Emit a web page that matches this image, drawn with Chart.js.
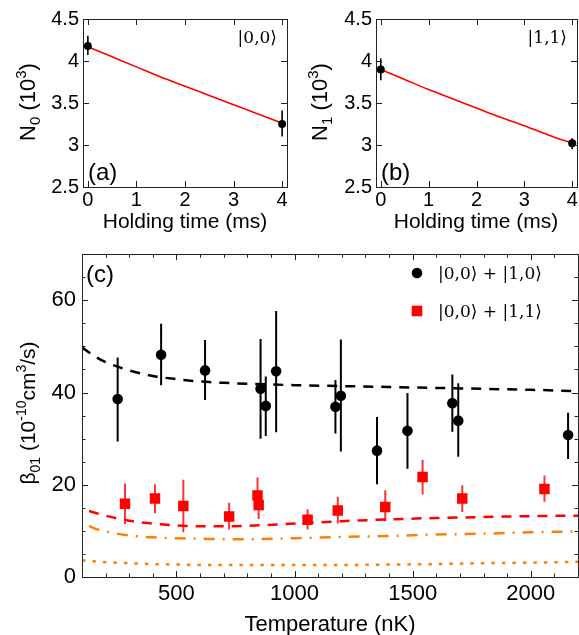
<!DOCTYPE html>
<html>
<head>
<meta charset="utf-8">
<script src="https://cdn.jsdelivr.net/npm/chart.js@4.4.1/dist/chart.umd.min.js"></script>
<style>
  html, body { margin: 0; padding: 0; background: #fff; }
  #wrap { position: relative; width: 579px; height: 635px; }
  canvas { position: absolute; }
</style>
</head>
<body>
<div id="wrap">
  <canvas id="chartA" width="290" height="235" style="left:0;top:0"></canvas>
  <canvas id="chartB" width="289" height="235" style="left:290px;top:0"></canvas>
  <canvas id="chartC" width="579" height="400" style="left:0;top:235px"></canvas>
</div>
<script>
const SANS = '"Liberation Sans", Arial, sans-serif';
const SERIF = '"DejaVu Serif", "Liberation Serif", serif';

// ---- (a), (b): atom number vs holding time ----
const holdTime = [0, 4];
const n0 = [4.18, 3.25];
const n0Lo = [4.07, 3.10];
const n0Hi = [4.30, 3.41];
const n1 = [3.90, 3.02];
const n1Lo = [3.77, 2.95];
const n1Hi = [4.03, 3.08];

const fitTime = [0, 0.5, 1, 1.5, 2, 2.5, 3, 3.5, 4];
const n0Fit = [4.17, 4.05, 3.93, 3.81, 3.70, 3.59, 3.48, 3.37, 3.26];
const n1Fit = [3.90, 3.78, 3.66, 3.55, 3.44, 3.33, 3.23, 3.12, 3.02];

const holdTicks = [0, 1, 2, 3, 4];
const numberTicks = [2.5, 3, 3.5, 4, 4.5];

// ---- (c): beta_01 vs temperature ----
const tempA = [251, 435, 621, 856, 878, 922, 1173, 1196, 1349, 1478, 1668, 1693, 2158];
const betaA = [38.6, 48.2, 44.8, 40.8, 37.1, 44.6, 36.9, 39.3, 27.4, 31.7, 37.7, 33.9, 30.8];
const betaALo = [29.4, 41.6, 38.4, 30.0, 30.6, 31.4, 31.1, 27.2, 20.1, 23.5, 31.5, 26.1, 25.6];
const betaAHi = [47.6, 54.9, 51.4, 51.6, 43.5, 57.7, 42.7, 51.5, 34.7, 39.9, 43.9, 42.0, 35.6];

const tempB = [282, 409, 529, 723, 843, 848, 1055, 1183, 1384, 1542, 1710, 2058];
const betaB = [15.9, 17.0, 15.4, 13.1, 17.7, 15.6, 12.4, 14.4, 15.2, 21.7, 17.0, 19.1];
const betaBLo = [11.5, 13.8, 9.7, 10.3, 14.6, 12.6, 10.3, 11.6, 12.1, 17.9, 14.1, 16.3];
const betaBHi = [20.3, 20.1, 21.1, 16.1, 21.6, 18.5, 14.7, 17.4, 18.8, 25.4, 19.9, 22.0];

const curveTemp = [100, 150, 200, 300, 400, 500, 600, 700, 800, 1000, 1200, 1400, 1600, 1800, 2000, 2200];
const theoryA = [49.8, 48.0, 46.6, 44.8, 43.6, 42.9, 42.4, 42.1, 41.9, 41.6, 41.4, 41.2, 41.0, 40.8, 40.6, 40.3];
const theoryDot = [3.6, 3.4, 3.2, 3.0, 2.8, 2.7, 2.6, 2.6, 2.6, 2.6, 2.6, 2.7, 2.8, 3.0, 3.1, 3.3];
const curveTempB = [130, 150, 200, 300, 400, 500, 600, 700, 800, 1000, 1200, 1400, 1600, 1800, 2000, 2200];
const theoryB = [14.3, 14.0, 13.3, 12.2, 11.6, 11.2, 11.0, 11.0, 11.1, 11.6, 12.1, 12.5, 12.8, 13.0, 13.2, 13.3];
const theoryDashDot = [11.1, 10.6, 9.9, 9.0, 8.6, 8.4, 8.3, 8.2, 8.2, 8.4, 8.7, 8.9, 9.2, 9.4, 9.7, 9.9];

const tempTicks = [500, 1000, 1500, 2000];
const betaTicks = [0, 20, 40, 60];

function pts(xs, ys) {
  return xs.map((x, i) => ({ x: x, y: ys[i] }));
}

// range helper for minor tick positions
function steps(from, to, step) {
  const out = [];
  for (let v = from; v <= to + 1e-9; v += step) out.push(Math.round(v * 1000) / 1000);
  return out;
}

// draws a string made of pieces with own size and vertical shift (sub/superscripts)
function drawParts(ctx, parts, x, y, rotate) {
  ctx.save();
  ctx.translate(x, y);
  if (rotate) ctx.rotate(-Math.PI / 2);
  ctx.textBaseline = 'alphabetic';
  ctx.textAlign = 'left';
  ctx.fillStyle = '#000';
  let total = 0;
  const widths = parts.map(p => {
    ctx.font = p[1] + 'px ' + SANS;
    const w = ctx.measureText(p[0]).width;
    total += w;
    return w;
  });
  let cx = -total / 2;
  parts.forEach((p, i) => {
    ctx.font = p[1] + 'px ' + SANS;
    ctx.fillText(p[0], cx, p[2]);
    cx += widths[i];
  });
  ctx.restore();
}

// vertical error bars, under the markers
const errorBarPlugin = {
  id: 'errorBars',
  beforeDatasetsDraw(chart) {
    const { ctx, scales } = chart;
    chart.data.datasets.forEach(ds => {
      if (!ds.errLo) return;
      ctx.save();
      ctx.strokeStyle = ds.errColor;
      ctx.lineWidth = ds.errWidth;
      ctx.beginPath();
      ds.data.forEach((p, i) => {
        const px = scales.x.getPixelForValue(p.x);
        ctx.moveTo(px, scales.y.getPixelForValue(ds.errLo[i]));
        ctx.lineTo(px, scales.y.getPixelForValue(ds.errHi[i]));
      });
      ctx.stroke();
      ctx.restore();
    });
  }
};

// box around the plot with inward ticks on all four sides
const framePlugin = {
  id: 'frame',
  afterDatasetsDraw(chart, args, opts) {
    const { ctx, chartArea: a, scales } = chart;
    const xs = scales.x, ys = scales.y;
    ctx.save();
    ctx.strokeStyle = '#222';
    ctx.lineWidth = 1;
    ctx.beginPath();
    const xTick = (v, len) => {
      const p = Math.round(xs.getPixelForValue(v)) + 0.5;
      ctx.moveTo(p, a.bottom); ctx.lineTo(p, a.bottom - len);
      ctx.moveTo(p, a.top); ctx.lineTo(p, a.top + len);
    };
    const yTick = (v, len) => {
      const p = Math.round(ys.getPixelForValue(v)) + 0.5;
      ctx.moveTo(a.left, p); ctx.lineTo(a.left + len, p);
      ctx.moveTo(a.right, p); ctx.lineTo(a.right - len, p);
    };
    (opts.xMinor || []).forEach(v => xTick(v, opts.minor));
    (opts.yMinor || []).forEach(v => yTick(v, opts.minor));
    xs.ticks.forEach(t => xTick(t.value, opts.major));
    ys.ticks.forEach(t => yTick(t.value, opts.major));
    ctx.stroke();
    ctx.strokeRect(Math.round(a.left) + 0.5, Math.round(a.top) + 0.5,
      Math.round(a.right - a.left), Math.round(a.bottom - a.top));
    ctx.restore();
  }
};

// titles, panel letters, state labels and legend
const labelPlugin = {
  id: 'labels',
  afterDraw(chart, args, opts) {
    const ctx = chart.ctx;
    (opts.items || []).forEach(it => {
      if (it.parts) {
        drawParts(ctx, it.parts, it.x, it.y, it.rotate);
        return;
      }
      if (it.marker) {
        ctx.save();
        ctx.fillStyle = it.color;
        ctx.beginPath();
        if (it.marker === 'circle') ctx.arc(it.x, it.y, it.size, 0, Math.PI * 2);
        else ctx.rect(it.x - it.size, it.y - it.size, it.size * 2, it.size * 2);
        ctx.fill();
        ctx.restore();
        return;
      }
      ctx.save();
      ctx.font = it.font;
      ctx.fillStyle = '#000';
      ctx.textAlign = it.align || 'left';
      ctx.textBaseline = 'alphabetic';
      ctx.fillText(it.text, it.x, it.y);
      ctx.restore();
    });
  }
};

function axis(min, max, tickValues, size, fontSize, pad, isX) {
  return {
    type: 'linear',
    min: min,
    max: max,
    grid: { display: false, drawTicks: false },
    border: { display: false },
    title: { display: false },
    afterBuildTicks(s) {
      s.ticks = tickValues.map(v => ({ value: v }));
    },
    ticks: {
      autoSkip: false,
      maxRotation: 0,
      padding: pad,
      color: '#000',
      font: { family: SANS, size: fontSize },
      callback: v => String(v)
    },
    afterFit(s) {
      if (isX) s.height = size; else s.width = size;
    }
  };
}

function holdingChart(id, vals, lo, hi, fit, yWidth, padRight, items) {
  return new Chart(document.getElementById(id), {
    type: 'scatter',
    data: {
      datasets: [
        {
          data: pts(holdTime, vals),
          pointRadius: 4,
          pointBackgroundColor: '#000',
          pointBorderWidth: 0,
          errLo: lo, errHi: hi, errColor: '#000', errWidth: 1.6
        },
        {
          data: pts(fitTime, fit),
          showLine: true,
          pointRadius: 0,
          borderColor: '#ff0000',
          borderWidth: 1.6,
          cubicInterpolationMode: 'monotone'
        }
      ]
    },
    options: {
      responsive: false,
      maintainAspectRatio: false,
      animation: false,
      events: [],
      layout: { autoPadding: false, padding: { left: 0, top: 19, right: padRight, bottom: 0 } },
      scales: {
        x: axis(-0.1, 4.1, holdTicks, 48, 20, 1, true),
        y: axis(2.5, 4.5, numberTicks, yWidth, 20, 4, false)
      },
      plugins: {
        legend: { display: false },
        tooltip: { enabled: false },
        frame: { major: 6, minor: 3 },
        labels: { items: items }
      }
    },
    plugins: [errorBarPlugin, framePlugin, labelPlugin]
  });
}

holdingChart('chartA', n0, n0Lo, n0Hi, n0Fit, 83, 3, [
  { parts: [['N', 22, 0], ['0', 15, 5], [' (10', 22, 0], ['3', 15, -9], [')', 22, 0]], x: 35, y: 102, rotate: true },
  { text: 'Holding time (ms)', font: '21px ' + SANS, x: 185, y: 228, align: 'center' },
  { text: '(a)', font: '24px ' + SANS, x: 88, y: 180 },
  { text: '|0,0\u27E9', font: '17px ' + SERIF, x: 277, y: 43, align: 'right' }
]);

holdingChart('chartB', n1, n1Lo, n1Hi, n1Fit, 86, 2, [
  { parts: [['N', 22, 0], ['1', 15, 5], [' (10', 22, 0], ['3', 15, -9], [')', 22, 0]], x: 37, y: 102, rotate: true },
  { text: 'Holding time (ms)', font: '21px ' + SANS, x: 186, y: 228, align: 'center' },
  { text: '(b)', font: '24px ' + SANS, x: 91, y: 180 },
  { text: '|1,1\u27E9', font: '17px ' + SERIF, x: 277, y: 43, align: 'right' }
]);

new Chart(document.getElementById('chartC'), {
  type: 'scatter',
  data: {
    datasets: [
      {
        data: pts(tempA, betaA),
        pointRadius: 5.3,
        pointBackgroundColor: '#000',
        pointBorderWidth: 0,
        errLo: betaALo, errHi: betaAHi, errColor: '#000', errWidth: 2
      },
      {
        data: pts(tempB, betaB),
        pointStyle: 'rect',
        pointRadius: 7.4,
        pointBackgroundColor: '#ff0000',
        pointBorderWidth: 0,
        errLo: betaBLo, errHi: betaBHi, errColor: '#ff3333', errWidth: 2
      },
      {
        data: pts(curveTemp, theoryA),
        showLine: true, pointRadius: 0,
        borderColor: '#000', borderWidth: 2.5, borderDash: [10, 8],
        cubicInterpolationMode: 'monotone'
      },
      {
        data: pts(curveTempB, theoryB),
        showLine: true, pointRadius: 0,
        borderColor: '#ff0000', borderWidth: 2.5, borderDash: [10, 8],
        cubicInterpolationMode: 'monotone'
      },
      {
        data: pts(curveTempB, theoryDashDot),
        showLine: true, pointRadius: 0,
        borderColor: '#ff8000', borderWidth: 2.5, borderDash: [11, 8, 2, 8],
        cubicInterpolationMode: 'monotone'
      },
      {
        data: pts(curveTemp, theoryDot),
        showLine: true, pointRadius: 0,
        borderColor: '#ff8000', borderWidth: 2.5, borderDash: [3.5, 7],
        cubicInterpolationMode: 'monotone'
      }
    ]
  },
  options: {
    responsive: false,
    maintainAspectRatio: false,
    animation: false,
    events: [],
    layout: { autoPadding: false, padding: { left: 0, top: 15, right: 1, bottom: 0 } },
    scales: {
      x: axis(100, 2200, tempTicks, 58, 22, 4, true),
      y: axis(0, 70, betaTicks, 82, 22, 6, false)
    },
    plugins: {
      legend: { display: false },
      tooltip: { enabled: false },
      frame: { major: 6, minor: 3.5, xMinor: steps(100, 2200, 100), yMinor: steps(0, 70, 5) },
      labels: {
        items: [
          { parts: [['\u03B2', 21, 0], ['01', 14, 5], [' (10', 21, 0], ['-10', 14, -9], ['cm', 21, 0], ['3', 14, -9], ['/s)', 21, 0]], x: 35, y: 178, rotate: true },
          { text: 'Temperature (nK)', font: '22px ' + SANS, x: 330, y: 396, align: 'center' },
          { text: '(c)', font: '24px ' + SANS, x: 86, y: 47 },
          { marker: 'circle', color: '#000', size: 5.3, x: 417, y: 38 },
          { text: '|0,0\u27E9 + |1,0\u27E9', font: '17px ' + SERIF, x: 438, y: 44 },
          { marker: 'rect', color: '#ff0000', size: 5.3, x: 417, y: 76 },
          { text: '|0,0\u27E9 + |1,1\u27E9', font: '17px ' + SERIF, x: 438, y: 82 }
        ]
      }
    }
  },
  plugins: [errorBarPlugin, framePlugin, labelPlugin]
});
</script>
</body>
</html>
